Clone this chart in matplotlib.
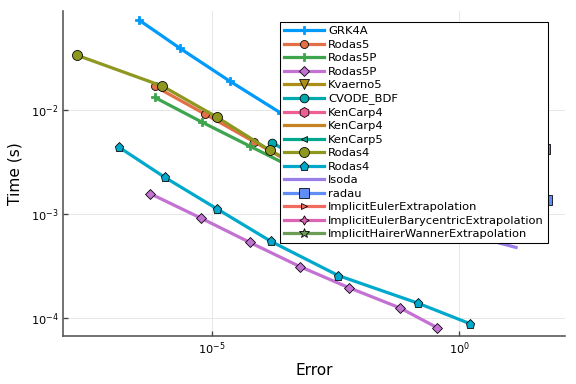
import matplotlib
matplotlib.use("Agg")
import matplotlib.pyplot as plt
from matplotlib.ticker import NullLocator

# error / time pairs
grk4a_err = [3.39e-7, 2.29e-6, 2.29e-5, 2.51e-4, 2.51e-3, 2.51e-2]
grk4a_time = [7.31e-2, 3.91e-2, 1.90e-2, 9.33e-3, 4.68e-3, 2.40e-3]

rodas5_err = [7.08e-7, 7.41e-6, 7.08e-5, 6.31e-4, 6.31e-3]
rodas5_time = [1.69e-2, 9.10e-3, 4.97e-3, 2.75e-3, 1.58e-3]

rodas5p_err = [7.08e-7, 6.31e-6, 5.89e-5, 5.62e-4, 5.01e-3]
rodas5p_time = [1.32e-2, 7.66e-3, 4.50e-3, 2.63e-3, 1.51e-3]

rodas5p_b_err = [5.75e-7, 6.17e-6, 5.89e-5, 6.03e-4, 6.03e-3, 6.31e-2, 0.363]
rodas5p_b_time = [1.57e-3, 9.12e-4, 5.35e-4, 3.14e-4, 1.96e-4, 1.26e-4, 8.11e-5]

kvaerno5_err = [3.0e-4, 2.0e-3, 2.0e-2]
kvaerno5_time = [3.5e-3, 2.0e-3, 1.2e-3]

cvode_err = [1.66e-4, 1.26e-3, 1.0e-2, 0.1]
cvode_time = [4.85e-3, 2.82e-3, 1.58e-3, 1.0e-3]

kencarp4_err = [4e-4, 4e-3, 4e-2]
kencarp4_time = [6e-3, 3.5e-3, 2e-3]

kencarp4_b_err = [5e-4, 5e-3, 5e-2]
kencarp4_b_time = [5e-3, 3e-3, 1.8e-3]

kencarp5_err = [3e-4, 3e-3, 3e-2]
kencarp5_time = [4.5e-3, 2.7e-3, 1.6e-3]

rodas4_err = [1.86e-8, 1.0e-6, 1.26e-5, 1.51e-4, 1.26e-3, 1.0e-2]
rodas4_time = [3.37e-2, 1.70e-2, 8.57e-3, 4.09e-3, 2.40e-3, 1.38e-3]

rodas4_b_err = [1.32e-7, 1.12e-6, 1.29e-5, 1.58e-4, 3.63e-3, 0.145, 1.66]
rodas4_b_time = [4.41e-3, 2.26e-3, 1.12e-3, 5.47e-4, 2.57e-4, 1.40e-4, 8.87e-5]

lsoda_err = [3.16e-4, 3.16e-3, 0.1, 1.58, 14.1]
lsoda_time = [2.51e-3, 1.58e-3, 8.91e-4, 6.31e-4, 4.79e-4]

radau_err = [55.0, 47.9, 60.3]
radau_time = [4.18e-3, 2.30e-3, 1.38e-3]

iee_err = [1e-2, 1e-1, 1.0]
iee_time = [3e-2, 1.5e-2, 8e-3]

iebe_err = [5e-3, 5e-2, 0.5]
iebe_time = [2.5e-2, 1.2e-2, 6e-3]

ihwe_err = [1e-3, 1e-2, 1e-1]
ihwe_time = [2e-2, 1e-2, 5e-3]

series = [
    ("GRK4A", grk4a_err, grk4a_time, "#009AFA", "P", 6),
    ("Rodas5", rodas5_err, rodas5_time, "#E36F47", "o", 6),
    ("Rodas5P", rodas5p_err, rodas5p_time, "#3EA44E", "P", 6),
    ("Rodas5P", rodas5p_b_err, rodas5p_b_time, "#C371D2", "D", 5),
    ("Kvaerno5", kvaerno5_err, kvaerno5_time, "#AC8E18", "v", 7.5),
    ("CVODE_BDF", cvode_err, cvode_time, "#00A9AD", "o", 6.5),
    ("KenCarp4", kencarp4_err, kencarp4_time, "#ED5E93", "h", 7.5),
    ("KenCarp4", kencarp4_b_err, kencarp4_b_time, "#C68225", None, 0),
    ("KenCarp5", kencarp5_err, kencarp5_time, "#00A98D", "<", 5),
    ("Rodas4", rodas4_err, rodas4_time, "#8E971E", "o", 7.5),
    ("Rodas4", rodas4_b_err, rodas4_b_time, "#00A8CB", "p", 7),
    ("lsoda", lsoda_err, lsoda_time, "#9B7FE9", None, 0),
    ("radau", radau_err, radau_time, "#618DF6", "s", 7.5),
    ("ImplicitEulerExtrapolation", iee_err, iee_time, "#F16C5F", ">", 5),
    ("ImplicitEulerBarycentricExtrapolation", iebe_err, iebe_time, "#DD64B5", (4, 1, 0), 7),
    ("ImplicitHairerWannerExtrapolation", ihwe_err, ihwe_time, "#6B9D59", "*", 8),
]

fig = plt.figure(figsize=(6, 4), dpi=96)
ax = fig.add_axes([0.110, 0.125, 0.871, 0.846])

for name, xs, ys, col, mk, ms in series:
    edge = col if mk == "P" else "black"
    ax.plot(xs, ys, color=col, lw=2.4, marker=mk, ms=ms,
            markeredgecolor=edge, markeredgewidth=0.6, label=name)

ax.set_xscale("log")
ax.set_yscale("log")
ax.set_xlim(1e-8, 10 ** 2.14)
ax.set_ylim(10 ** -4.17, 10 ** -1.05)
ax.set_xticks([1e-5, 1e0])
ax.set_yticks([1e-4, 1e-3, 1e-2])
ax.xaxis.set_minor_locator(NullLocator())
ax.yaxis.set_minor_locator(NullLocator())
ax.tick_params(direction="in", length=4, width=1, labelsize=8.5, color="#444444")
ax.grid(True, color="#e6e6e6", lw=0.7)
ax.set_axisbelow(True)

for s in ["top", "right"]:
    ax.spines[s].set_visible(False)
for s in ["left", "bottom"]:
    ax.spines[s].set_color("#555555")
    ax.spines[s].set_linewidth(1.2)

ax.set_xlabel("Error", fontsize=11.5)
ax.set_ylabel("Time (s)", fontsize=11.5, labelpad=6)

leg = ax.legend(loc="upper right", bbox_to_anchor=(0.966, 0.966), borderaxespad=0,
                fontsize=8.6, labelspacing=0.3, handlelength=3.5, handletextpad=0.35,
                borderpad=0.35, fancybox=False, framealpha=1, edgecolor="black")
leg.get_frame().set_linewidth(0.8)

fig.savefig("out.png", dpi=96)
